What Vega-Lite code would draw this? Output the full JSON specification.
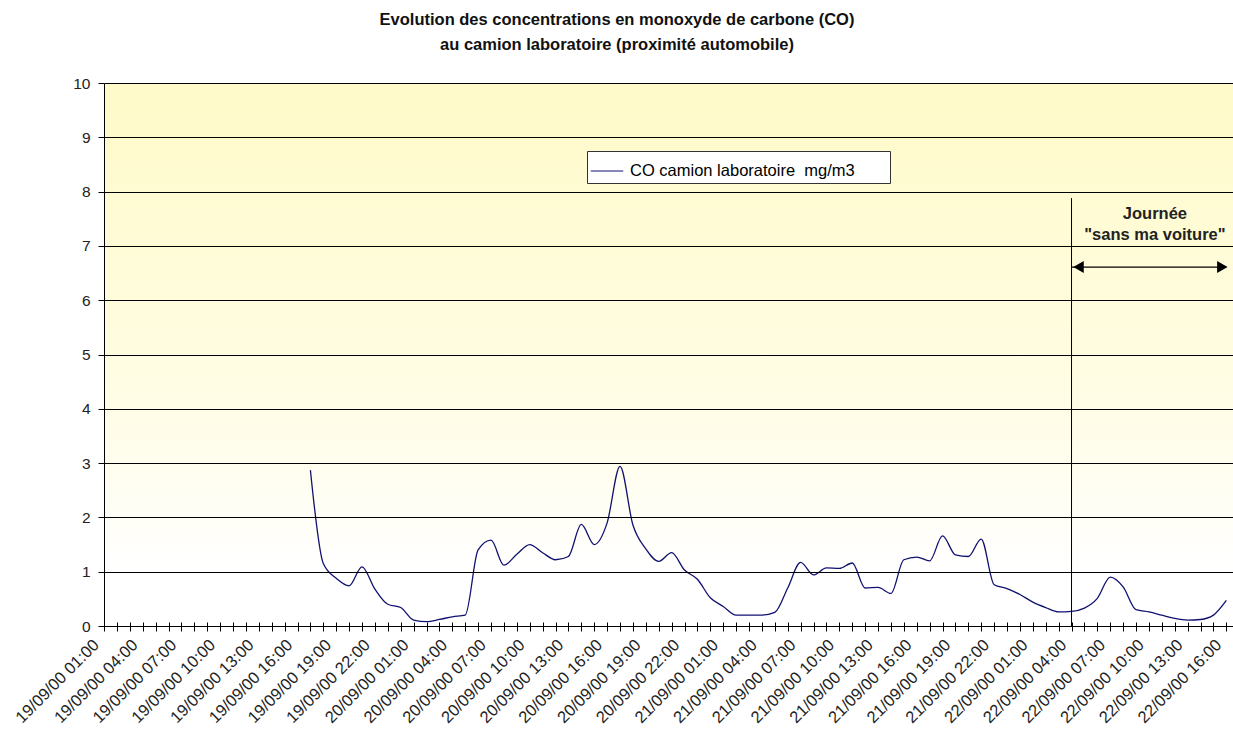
{
  "$schema": "https://vega.github.io/schema/vega-lite/v6.json",
  "width": 1129,
  "height": 543,
  "autosize": {"type": "none"},
  "padding": {"left": 104, "top": 83, "right": 0, "bottom": 103},
  "background": "white",
  "config": {"font": "Liberation Sans", "view": {"stroke": null}},
  "title": {
    "text": ["Evolution des concentrations en monoxyde de carbone (CO)", "au camion laboratoire (proximité automobile)"],
    "fontSize": 16.5,
    "fontWeight": "bold",
    "font": "Liberation Sans",
    "color": "#111111",
    "anchor": "middle",
    "frame": "group",
    "dx": -51.5,
    "offset": 23,
    "lineHeight": 25
  },
  "encoding": {
    "x": {
      "field": "t", "type": "temporal",
      "scale": {
        "domain": ["2000-09-19T01:00:00", "2000-09-22T16:31:00"],
        "nice": false
      },
      "axis": {
        "title": null,
        "tickCount": 88,
        "labelExpr": "hours(datum.value) % 3 == 1 ? timeFormat(datum.value, '%d/%m/%y %H:%M') : ''",
        "labelAngle": -45,
        "labelAlign": "right",
        "labelBaseline": "middle",
        "labelFontSize": 16.5,
        "labelColor": "#222222",
        "labelOffset": -8,
        "labelPadding": 11,
        "labelOverlap": false,
        "labelBound": false,
        "labelLimit": 300,
        "tickSize": 9,
        "tickColor": "#000000",
        "tickWidth": 1,
        "offset": -4,
        "domain": false,
        "grid": false,
        "zindex": 1
      }
    },
    "y": {
      "field": "v", "type": "quantitative",
      "scale": {"domain": [0, 10], "nice": false, "zero": true},
      "axis": {
        "title": null,
        "values": [0, 1, 2, 3, 4, 5, 6, 7, 8, 9, 10],
        "grid": true, "gridColor": "#000000", "gridOpacity": 1, "gridWidth": 1,
        "domainColor": "#000000", "domainWidth": 1,
        "tickColor": "#000000", "tickSize": 6,
        "labelFontSize": 15.5, "labelPadding": 8, "labelColor": "#222222",
        "zindex": 1
      }
    }
  },
  "layer": [
    {
      "data": {"values": [{"t": "2000-09-19T01:00:00", "t2": "2000-09-22T17:00:00", "v": 0, "v2": 10}]},
      "mark": {"type": "rect", "clip": true, "color": {"gradient": "linear", "x1": 0, "y1": 0, "x2": 0, "y2": 1, "stops": [{"offset": 0, "color": "#FFFAC8"}, {"offset": 0.6, "color": "#FFFDE6"}, {"offset": 0.9, "color": "#FFFFFF"}, {"offset": 1, "color": "#FFFFFF"}]}},
      "encoding": {
        "x2": {"field": "t2"},
        "y2": {"field": "v2"}
      }
    },
    {
      "data": {"values": [
        {"t": "2000-09-19T17:00:00", "v": 2.87}, {"t": "2000-09-19T18:00:00", "v": 1.15}, {"t": "2000-09-19T19:00:00", "v": 0.88}, {"t": "2000-09-19T20:00:00", "v": 0.74},
        {"t": "2000-09-19T21:00:00", "v": 1.09}, {"t": "2000-09-19T22:00:00", "v": 0.68}, {"t": "2000-09-19T23:00:00", "v": 0.40}, {"t": "2000-09-20T00:00:00", "v": 0.34},
        {"t": "2000-09-20T01:00:00", "v": 0.11}, {"t": "2000-09-20T02:00:00", "v": 0.08}, {"t": "2000-09-20T03:00:00", "v": 0.12}, {"t": "2000-09-20T04:00:00", "v": 0.17},
        {"t": "2000-09-20T05:00:00", "v": 0.20}, {"t": "2000-09-20T06:00:00", "v": 1.40}, {"t": "2000-09-20T07:00:00", "v": 1.58}, {"t": "2000-09-20T08:00:00", "v": 1.12},
        {"t": "2000-09-20T09:00:00", "v": 1.32}, {"t": "2000-09-20T10:00:00", "v": 1.50}, {"t": "2000-09-20T11:00:00", "v": 1.35}, {"t": "2000-09-20T12:00:00", "v": 1.22},
        {"t": "2000-09-20T13:00:00", "v": 1.28}, {"t": "2000-09-20T14:00:00", "v": 1.87}, {"t": "2000-09-20T15:00:00", "v": 1.50}, {"t": "2000-09-20T16:00:00", "v": 1.90},
        {"t": "2000-09-20T17:00:00", "v": 2.94}, {"t": "2000-09-20T18:00:00", "v": 1.86}, {"t": "2000-09-20T19:00:00", "v": 1.42}, {"t": "2000-09-20T20:00:00", "v": 1.19},
        {"t": "2000-09-20T21:00:00", "v": 1.35}, {"t": "2000-09-20T22:00:00", "v": 1.03}, {"t": "2000-09-20T23:00:00", "v": 0.86}, {"t": "2000-09-21T00:00:00", "v": 0.52},
        {"t": "2000-09-21T01:00:00", "v": 0.36}, {"t": "2000-09-21T02:00:00", "v": 0.20}, {"t": "2000-09-21T03:00:00", "v": 0.20}, {"t": "2000-09-21T04:00:00", "v": 0.20},
        {"t": "2000-09-21T05:00:00", "v": 0.25}, {"t": "2000-09-21T06:00:00", "v": 0.70}, {"t": "2000-09-21T07:00:00", "v": 1.17}, {"t": "2000-09-21T08:00:00", "v": 0.94},
        {"t": "2000-09-21T09:00:00", "v": 1.07}, {"t": "2000-09-21T10:00:00", "v": 1.06}, {"t": "2000-09-21T11:00:00", "v": 1.16}, {"t": "2000-09-21T12:00:00", "v": 0.70},
        {"t": "2000-09-21T13:00:00", "v": 0.71}, {"t": "2000-09-21T14:00:00", "v": 0.60}, {"t": "2000-09-21T15:00:00", "v": 1.22}, {"t": "2000-09-21T16:00:00", "v": 1.27},
        {"t": "2000-09-21T17:00:00", "v": 1.20}, {"t": "2000-09-21T18:00:00", "v": 1.66}, {"t": "2000-09-21T19:00:00", "v": 1.31}, {"t": "2000-09-21T20:00:00", "v": 1.28},
        {"t": "2000-09-21T21:00:00", "v": 1.60}, {"t": "2000-09-21T22:00:00", "v": 0.76}, {"t": "2000-09-21T23:00:00", "v": 0.69}, {"t": "2000-09-22T00:00:00", "v": 0.58},
        {"t": "2000-09-22T01:00:00", "v": 0.44}, {"t": "2000-09-22T02:00:00", "v": 0.34}, {"t": "2000-09-22T03:00:00", "v": 0.26}, {"t": "2000-09-22T04:00:00", "v": 0.27},
        {"t": "2000-09-22T05:00:00", "v": 0.33}, {"t": "2000-09-22T06:00:00", "v": 0.51}, {"t": "2000-09-22T07:00:00", "v": 0.90}, {"t": "2000-09-22T08:00:00", "v": 0.72},
        {"t": "2000-09-22T09:00:00", "v": 0.30}, {"t": "2000-09-22T10:00:00", "v": 0.26}, {"t": "2000-09-22T11:00:00", "v": 0.20}, {"t": "2000-09-22T12:00:00", "v": 0.14},
        {"t": "2000-09-22T13:00:00", "v": 0.11}, {"t": "2000-09-22T14:00:00", "v": 0.12}, {"t": "2000-09-22T15:00:00", "v": 0.20}, {"t": "2000-09-22T16:00:00", "v": 0.47}
      ]},
      "mark": {"type": "line", "interpolate": "monotone", "strokeWidth": 1.3, "clip": true},
      "encoding": {
        "color": {
          "datum": "CO camion laboratoire\u00a0 mg/m3\u00a0\u00a0\u00a0\u00a0\u00a0\u00a0\u00a0\u200b",
          "type": "nominal",
          "scale": {"range": ["#101070"]},
          "legend": {
            "orient": "none", "legendX": 483, "legendY": 68, "title": null,
            "symbolType": "stroke", "symbolSize": 1050, "symbolStrokeWidth": 1.2,
            "labelFontSize": 16.5, "labelColor": "#000000", "labelOffset": 6, "labelLimit": 400,
            "padding": 3, "fillColor": "#FFFFFF", "strokeColor": "#333333"
          }
        }
      }
    },
    {
      "data": {"values": [{"t": "2000-09-22T04:00:00", "v": 0, "v2": 7.88}]},
      "mark": {"type": "rule", "color": "#000000", "strokeWidth": 1},
      "encoding": {
        "y2": {"field": "v2"}
      }
    },
    {
      "data": {"values": [{"t": "2000-09-22T04:00:00", "t2": "2000-09-22T16:00:00", "v": 6.61}]},
      "mark": {"type": "rule", "color": "#000000", "strokeWidth": 1.3},
      "encoding": {
        "x2": {"field": "t2"}
      }
    },
    {
      "data": {"values": [{"t": "2000-09-22T04:00:00", "v": 6.61}]},
      "mark": {"type": "point", "shape": "triangle-left", "filled": true, "color": "#000000", "size": 144, "opacity": 1, "xOffset": 7}
    },
    {
      "data": {"values": [{"t": "2000-09-22T16:00:00", "v": 6.61}]},
      "mark": {"type": "point", "shape": "triangle-right", "filled": true, "color": "#000000", "size": 144, "opacity": 1, "xOffset": -4}
    },
    {
      "data": {"values": [
        {"t": "2000-09-22T10:00:00", "v": 7.49, "label": "Journée"},
        {"t": "2000-09-22T10:00:00", "v": 7.11, "label": "\"sans ma voiture\""}
      ]},
      "mark": {"type": "text", "font": "Liberation Sans", "fontWeight": "bold", "fontSize": 16.5, "align": "center", "baseline": "alphabetic", "dx": 6, "color": "#222222"},
      "encoding": {
        "text": {"field": "label"}
      }
    }
  ]
}
